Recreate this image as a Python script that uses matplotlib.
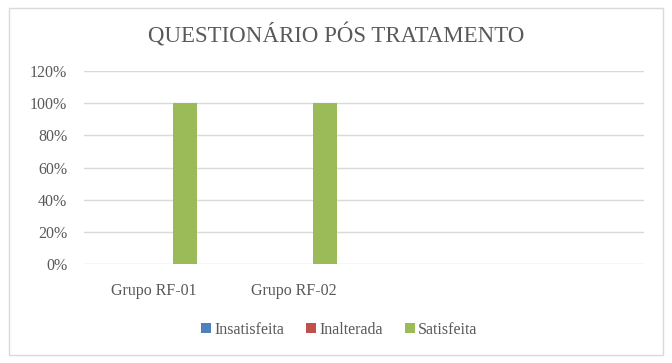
import matplotlib.pyplot as plt
import matplotlib.patches as mpatches
import numpy as np
from matplotlib.ticker import PercentFormatter

categorias = ["Grupo RF-01", "Grupo RF-02", "", ""]
insatisfeita = [0, 0, 0, 0]
inalterada = [0, 0, 0, 0]
satisfeita = [1.0, 1.0, 0, 0]

series = ["Insatisfeita", "Inalterada", "Satisfeita"]
cores = ["#4f81bd", "#c0504d", "#9bbb59"]
texto = "#595959"

plt.rcParams["font.family"] = ["Liberation Serif", "DejaVu Serif"]

fig = plt.figure(figsize=(6.72, 3.63), dpi=100)
fig.patches.append(mpatches.Rectangle((9 / 672, 1 - 355 / 363), 654 / 672, 347 / 363,
                                      transform=fig.transFigure, fill=False,
                                      edgecolor="#d9d9d9", linewidth=1))
ax = fig.add_axes([84 / 672, 1 - 264 / 363, 560 / 672, 193 / 363])

x = np.arange(len(categorias))
largura = 0.176
passo = 0.222
for i, (valores, nome, cor) in enumerate(zip([insatisfeita, inalterada, satisfeita], series, cores)):
    ax.bar(x + (i - 1) * passo, valores, largura, color=cor, label=nome, zorder=3)

ax.set_xlim(-0.5, len(categorias) - 0.5)
ax.set_ylim(0, 1.2)
ax.set_yticks(np.arange(0, 1.21, 0.2))
ax.yaxis.set_major_formatter(PercentFormatter(1.0, decimals=0))
ax.set_xticks(x)
ax.set_xticklabels(categorias)
ax.grid(axis="y", color="#d9d9d9", linewidth=1, zorder=0)
for s in ax.spines.values():
    s.set_visible(False)
ax.tick_params(length=0, colors=texto, labelsize=11.5)
ax.tick_params(axis="y", pad=12)
ax.tick_params(axis="x", pad=14)

fig.text(0.5, 1 - 36 / 363, "QUESTIONÁRIO PÓS TRATAMENTO", ha="center", va="center",
         fontsize=16.5, color=texto)
fig.legend(loc="center", bbox_to_anchor=(0.505, 1 - 330 / 363), ncol=3, frameon=False,
           fontsize=11.5, labelcolor=texto, handlelength=0.6, handleheight=0.6,
           handletextpad=0.2, columnspacing=1.4)

fig.savefig("out.png", dpi=100)
